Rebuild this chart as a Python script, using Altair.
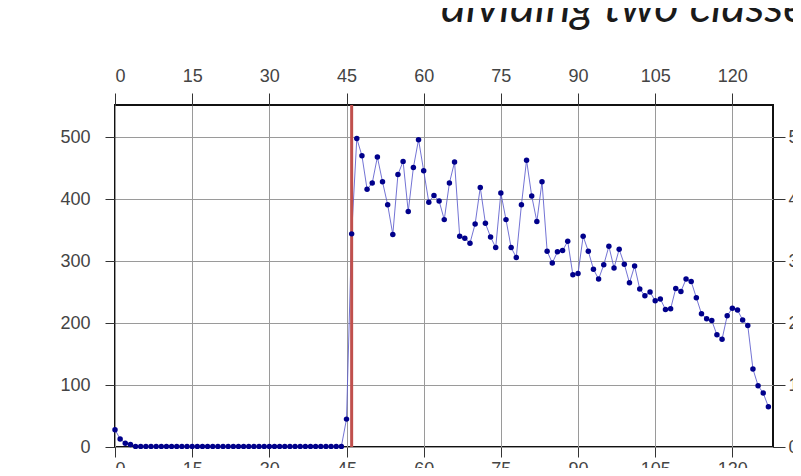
import altair as alt
import pandas as pd

# ---- data ----
x_vals = list(range(128))
y_low = [28, 13, 6, 4] + [1] * 41          # x = 0 .. 44
y_jump = [45]                               # x = 45
y_46_66 = [344, 498, 470, 416, 426, 468, 428, 391, 343, 440, 461, 380, 451, 496, 446, 395, 406, 397, 367, 426, 460]
y_67_86 = [340, 337, 329, 360, 419, 361, 339, 322, 410, 367, 322, 306, 391, 463, 405, 364, 428, 316, 297, 315]
y_87_107 = [317, 332, 278, 280, 340, 316, 287, 271, 294, 324, 289, 319, 295, 265, 292, 255, 244, 250, 236, 239, 222]
y_108_127 = [223, 256, 251, 271, 267, 241, 215, 207, 204, 181, 174, 212, 224, 221, 205, 196, 126, 99, 87, 65]
y_vals = y_low + y_jump + y_46_66 + y_67_86 + y_87_107 + y_108_127

threshold = [46]
x_ticks = [0, 15, 30, 45, 60, 75, 90, 105, 120]
y_ticks = [0, 100, 200, 300, 400, 500]
title_text = ["dividing two classes"]

df = pd.DataFrame({"x": x_vals, "y": y_vals})
thr = pd.DataFrame({"t": threshold})
ttl = pd.DataFrame({"t": title_text})

xscale = alt.Scale(domain=[0, 127.9], nice=False, zero=False)
yscale = alt.Scale(domain=[0, 552], nice=False)

line = alt.Chart(df).mark_line(color="#5a5acc", strokeWidth=1, opacity=0.85).encode(
    x=alt.X("x:Q", scale=xscale,
            axis=alt.Axis(orient="bottom", values=x_ticks, title=None, grid=True,
                          gridColor="#9a9a9a", gridWidth=1, tickSize=10, labelPadding=3,
                          domain=False, tickColor="#333")),
    y=alt.Y("y:Q", scale=yscale,
            axis=alt.Axis(orient="left", values=y_ticks, title=None, grid=True,
                          gridColor="#9a9a9a", gridWidth=1, tickSize=10, labelPadding=15,
                          domain=False, tickColor="#333")),
)

rule = alt.Chart(thr).mark_rule(color="#c0504d", strokeWidth=3).encode(
    x=alt.X("t:Q", scale=xscale, axis=None),
)

points = alt.Chart(df).mark_circle(color="#00008b", size=30, opacity=1).encode(
    x=alt.X("x:Q", scale=xscale,
            axis=alt.Axis(orient="top", values=x_ticks, title=None, grid=False,
                          tickSize=12, labelPadding=8, domain=False, tickColor="#333")),
    y=alt.Y("y:Q", scale=yscale,
            axis=alt.Axis(orient="right", values=y_ticks, title=None, grid=False,
                          tickSize=12, labelPadding=3, domain=False, tickColor="#333")),
)

title = alt.Chart(ttl).mark_text(
    font="Lato", fontStyle="italic", fontSize=47, align="left", baseline="alphabetic",
    color="#1a1a1a",
).encode(text="t:N", x=alt.value(326), y=alt.value(-83))

chart = (
    alt.layer(line, rule, points, title)
    .resolve_scale(x="shared", y="shared")
    .resolve_axis(x="independent", y="independent")
    .properties(
        width=658, height=342,
        padding={"left": 107, "top": 97, "right": 20, "bottom": 21},
        autosize=alt.AutoSizeParams(type="none"),
    )
    .configure_view(stroke="#111", strokeWidth=2)
    .configure_axis(labelFont="Liberation Sans", labelFontSize=18, labelColor="#444")
)

chart.save("out.html", embed_options={"renderer": "svg", "actions": False})
